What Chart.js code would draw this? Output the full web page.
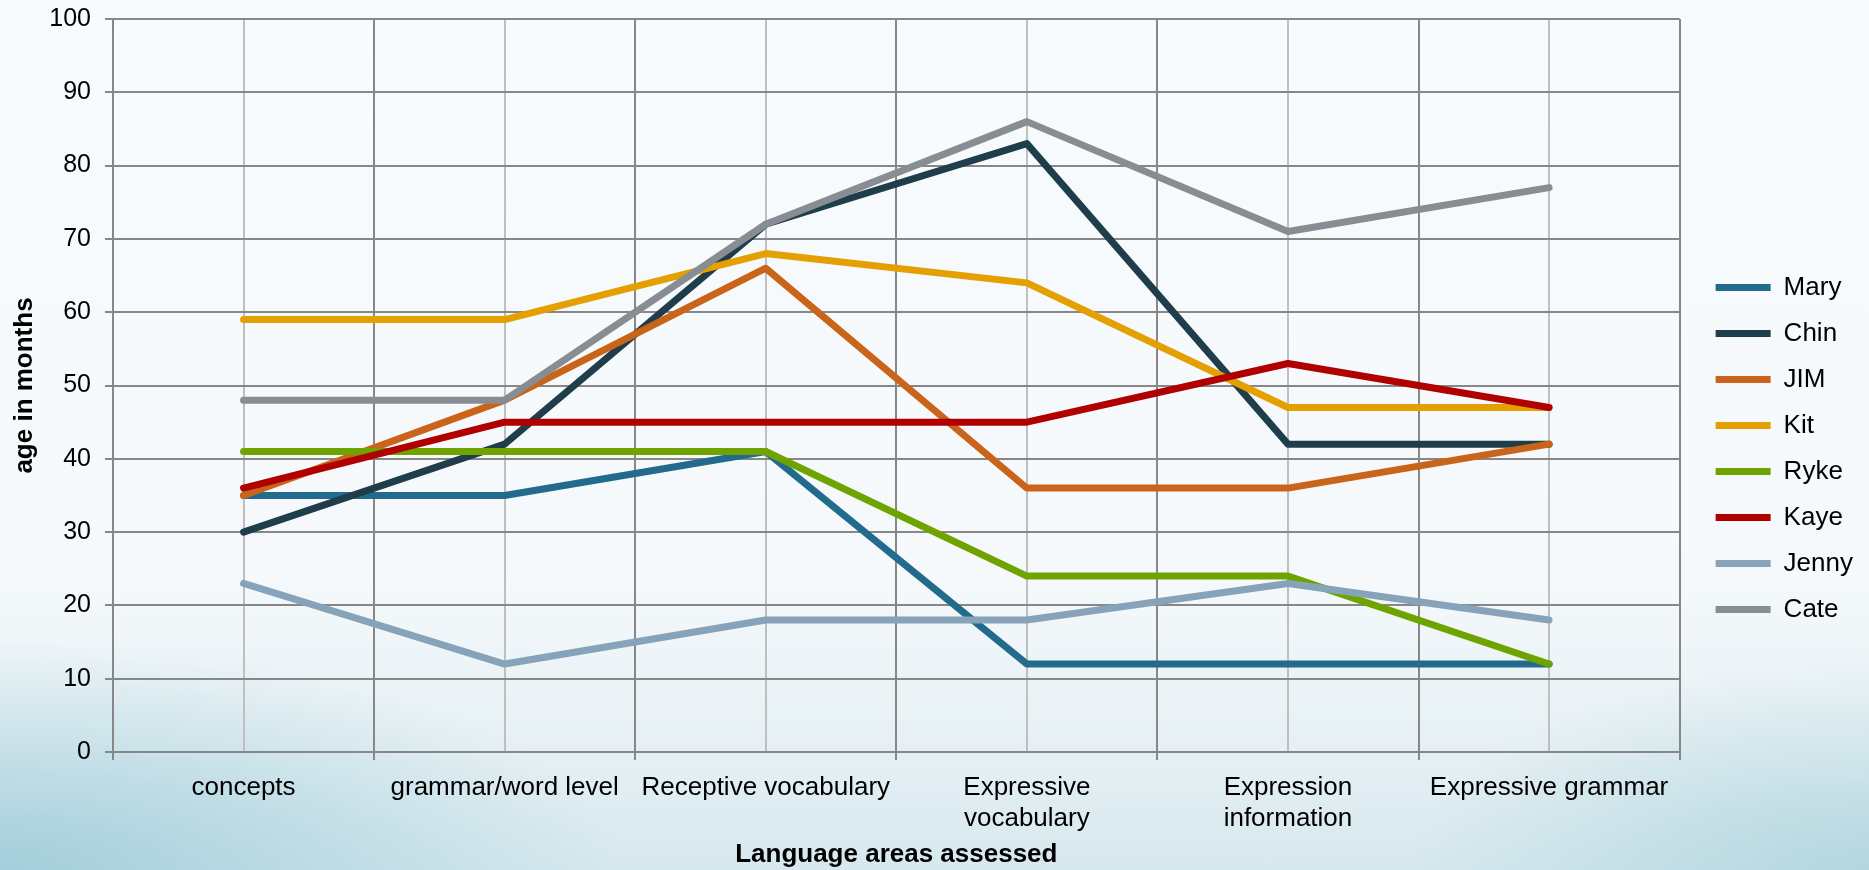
<!DOCTYPE html>
<html>
<head>
<meta charset="utf-8">
<script src="https://cdn.jsdelivr.net/npm/chart.js@4/dist/chart.umd.min.js"></script>
<style>
    html, body { margin: 0; padding: 0; }
    body {
        width: 1869px;
        height: 870px;
        overflow: hidden;
        background:
            radial-gradient(ellipse 620px 230px at 0% 100%, rgba(150, 200, 214, 0.8), rgba(150, 200, 214, 0) 100%),
            radial-gradient(ellipse 460px 210px at 100% 100%, rgba(160, 205, 216, 0.65), rgba(160, 205, 216, 0) 100%),
            linear-gradient(to bottom, #f7fbfd 0%, #f5f9fb 66%, #e6f0f4 86%, #d6e8ee 100%);
    }
    #wrap { position: relative; width: 1869px; height: 870px; }
</style>
</head>
<body>
<div id="wrap"><canvas id="languageChart"></canvas></div>
<script>
// Kategori sumbu X
const categories = [
    'concepts',
    'grammar/word level',
    'Receptive vocabulary',
    ['Expressive', 'vocabulary'],
    ['Expression', 'information'],
    'Expressive grammar'
];

// Nilai per anak (umur dalam bulan)
const mary  = [35, 35, 41, 12, 12, 12];
const chin  = [30, 42, 72, 83, 42, 42];
const jim   = [35, 48, 66, 36, 36, 42];
const kit   = [59, 59, 68, 64, 47, 47];
const ryke  = [41, 41, 41, 24, 24, 12];
const kaye  = [36, 45, 45, 45, 53, 47];
const jenny = [23, 12, 18, 18, 23, 18];
const cate  = [48, 48, 72, 86, 71, 77];

const seriesNames = ['Mary', 'Chin', 'JIM', 'Kit', 'Ryke', 'Kaye', 'Jenny', 'Cate'];
const seriesValues = [mary, chin, jim, kit, ryke, kaye, jenny, cate];
const seriesColors = ['#236b8c', '#1f3d4a', '#c9641a', '#e3a000', '#6ea300', '#b00000', '#86a3b9', '#878d92'];

const yTicks = { min: 0, max: 100, step: 10 };

document.addEventListener('DOMContentLoaded', function () {
    initLanguageChart();
});

function initLanguageChart() {
    const canvasElement = document.getElementById('languageChart');
    if (!canvasElement) return;

    const gridDark = '#878787';
    const gridLight = '#bfbfbf';
    const font = 'Liberation Sans, Arial, sans-serif';

    const datasets = seriesNames.map((name, i) => ({
        label: name,
        data: seriesValues[i],
        borderColor: seriesColors[i],
        backgroundColor: seriesColors[i],
        borderWidth: 7,
        borderCapStyle: 'round',
        borderJoinStyle: 'round',
        pointRadius: 0,
        pointHoverRadius: 0,
        fill: false,
        tension: 0,
        // seri terakhir digambar paling atas (seperti Excel)
        order: seriesNames.length - i
    }));

    new Chart(canvasElement.getContext('2d'), {
        type: 'line',
        data: { labels: categories, datasets: datasets },
        options: {
            responsive: true,
            maintainAspectRatio: false,
            animation: false,
            layout: { padding: { top: 19, right: 6, bottom: 0, left: 0 } },
            plugins: {
                tooltip: { enabled: false },
                legend: {
                    position: 'right',
                    // judul kosong, hanya untuk menggeser item sedikit ke bawah
                    title: { display: true, text: ' ', font: { size: 6, lineHeight: 1 }, padding: 1 },
                    labels: {
                        usePointStyle: true,
                        pointStyle: 'line',
                        pointStyleWidth: 55,
                        boxWidth: 55,
                        padding: 20,
                        color: '#000',
                        font: { family: font, size: 26 },
                        sort: (a, b) => a.datasetIndex - b.datasetIndex
                    }
                }
            },
            scales: {
                x: {
                    type: 'category',
                    offset: true,
                    grid: { offset: true, color: gridDark, lineWidth: 2, tickLength: 8, drawTicks: true },
                    border: { display: true, color: gridDark, width: 2 },
                    ticks: {
                        color: '#000',
                        font: { family: font, size: 26 },
                        maxRotation: 0,
                        minRotation: 0,
                        autoSkip: false,
                        padding: 12
                    },
                    title: {
                        display: true,
                        text: 'Language areas assessed',
                        color: '#000',
                        font: { family: font, size: 26, weight: 'bold' },
                        padding: { top: 0, bottom: 0 }
                    },
                    afterFit: (s) => { s.height = 118; s.paddingLeft = 0; s.paddingRight = 0; }
                },
                x2: {
                    type: 'category',
                    position: 'top',
                    offset: true,
                    grid: { offset: false, color: gridLight, lineWidth: 2, drawTicks: false },
                    border: { display: false },
                    ticks: { display: false },
                    afterFit: (s) => { s.height = 0; }
                },
                y: {
                    min: yTicks.min,
                    max: yTicks.max,
                    grid: { color: gridDark, lineWidth: 2, tickLength: 8, drawTicks: true },
                    border: { display: true, color: gridDark, width: 2 },
                    ticks: {
                        stepSize: yTicks.step,
                        color: '#000',
                        font: { family: font, size: 25 },
                        padding: 14
                    },
                    title: {
                        display: true,
                        text: 'age in months',
                        color: '#000',
                        font: { family: font, size: 26, weight: 'bold' },
                        padding: { top: 9, bottom: 0 }
                    },
                    afterFit: (s) => { s.width = 113; s.paddingTop = 0; s.paddingBottom = 0; }
                },
                // sumbu kosong hanya untuk memberi jarak ke legenda
                ySpacer: {
                    position: 'right',
                    display: true,
                    grid: { display: false },
                    border: { display: false },
                    ticks: { display: false },
                    afterFit: (s) => { s.width = 16; s.paddingTop = 0; s.paddingBottom = 0; }
                }
            }
        }
    });
}
</script>
</body>
</html>
